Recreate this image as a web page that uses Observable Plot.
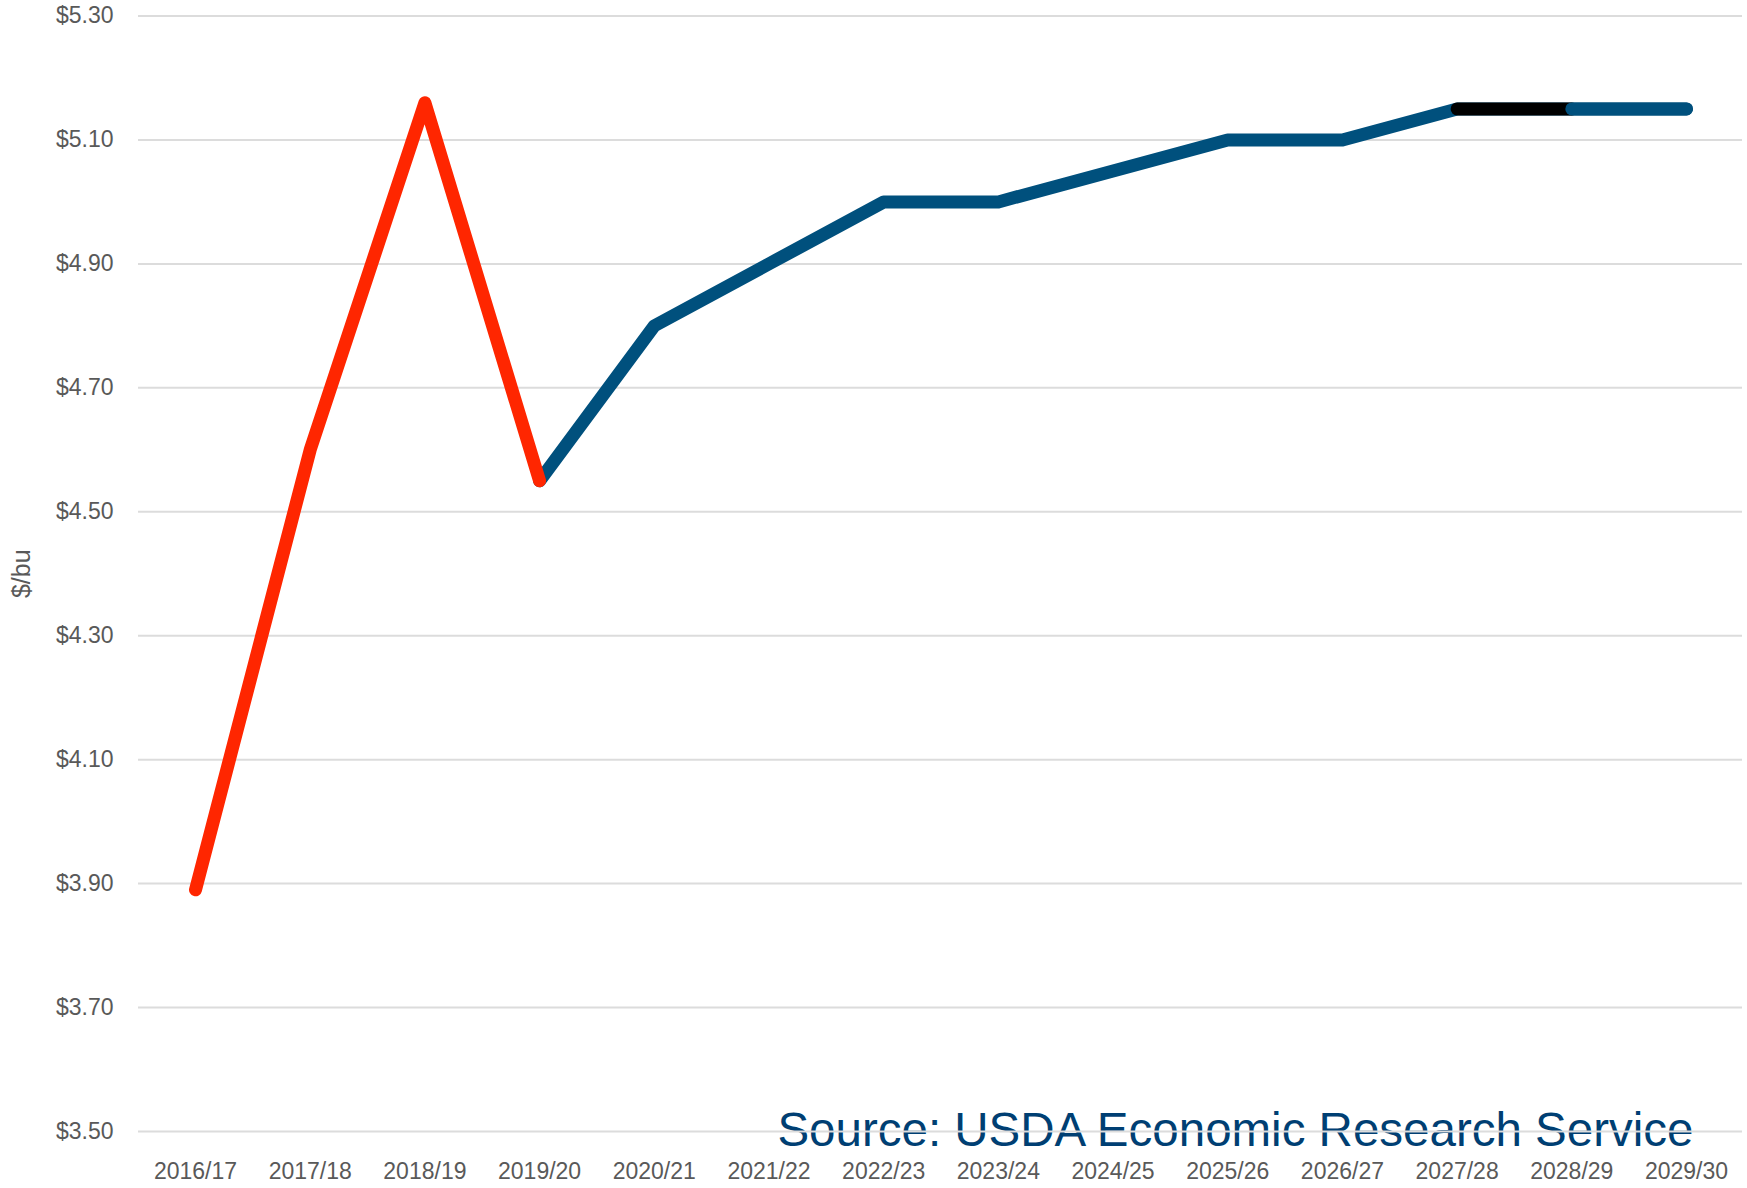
<!DOCTYPE html>
<html>
<head>
<meta charset="utf-8">
<script src="https://cdn.jsdelivr.net/npm/d3@7"></script>
<script src="https://cdn.jsdelivr.net/npm/@observablehq/plot@0.6"></script>
<style>
  html, body { margin: 0; padding: 0; background: #fff; }
  #chart svg { display: block; }
</style>
</head>
<body>
<div id="chart"></div>
<script>
// Marketing years (x categories)
const seasons = ["2016/17","2017/18","2018/19","2019/20","2020/21","2021/22","2022/23",
                 "2023/24","2024/25","2025/26","2026/27","2027/28","2028/29","2029/30"];
// Historical prices ($/bu), 2016/17 – 2019/20
const histSeasons = ["2016/17","2017/18","2018/19","2019/20"];
const histValues  = [3.89, 4.60, 5.16, 4.55];
// Projected prices ($/bu), 2019/20 – 2029/30
const projSeasons = ["2019/20","2020/21","2021/22","2022/23","2023/24","2024/25",
                     "2025/26","2026/27","2027/28","2028/29","2029/30"];
const projValues  = [4.55, 4.80, 4.90, 5.00, 5.00, 5.05, 5.10, 5.10, 5.15, 5.15, 5.15];
// Highlighted segment of the projection (drawn in black)
const blackSeasons = ["2027/28","2028/29"];
// Final projected segment
const lastSeasons = ["2028/29","2029/30"];
// Y ticks
const yTicks = [3.5, 3.7, 3.9, 4.1, 4.3, 4.5, 4.7, 4.9, 5.1, 5.3];
const sourceText = "Source: USDA Economic Research Service";

const proj = projSeasons.map((s, i) => ({season: s, value: projValues[i]}));
const hist = histSeasons.map((s, i) => ({season: s, value: histValues[i]}));
const black = proj.filter(d => blackSeasons.includes(d.season));
const last = proj.filter(d => lastSeasons.includes(d.season));

const lineStyle = {x: "season", y: "value", strokeWidth: 13, strokeLinecap: "round", strokeLinejoin: "round"};

const chart = Plot.plot({
  width: 1747,
  height: 1188,
  marginLeft: 138,
  marginRight: 5,
  marginTop: 15.5,
  marginBottom: 57,
  style: {fontFamily: "'Liberation Sans', Arial, sans-serif", fontSize: "23px", color: "#595959", background: "#fff"},
  x: {type: "point", domain: seasons, range: [195, 1686], padding: 0, round: false, label: null},
  y: {domain: [3.5, 5.3], label: null},
  marks: [
    Plot.text([sourceText], {text: d => d, frameAnchor: "bottom-right", textAnchor: "end",
      lineAnchor: "bottom", dx: -49, dy: 14, fontSize: 47.5, fill: "#003F73"}),
    Plot.gridY(yTicks, {stroke: "#dcdcdc", strokeOpacity: 1, strokeWidth: 2}),
    Plot.axisY(yTicks, {tickSize: 0, tickPadding: 25, tickFormat: d => "$" + d.toFixed(2),
      fill: "#595959", fontSize: 23, label: null}),
    Plot.text(["$/bu"], {text: d => d, frameAnchor: "left", textAnchor: "middle", lineAnchor: "middle",
      rotate: -90, dx: -117, fontSize: 25, fill: "#595959"}),
    Plot.axisX(seasons, {tickSize: 0, tickPadding: 31, fill: "#595959", fontSize: 23, label: null}),
    Plot.line(proj, {...lineStyle, stroke: "#00507D"}),
    Plot.line(black, {...lineStyle, stroke: "#000000"}),
    Plot.line(last, {...lineStyle, stroke: "#00507D"}),
    Plot.line(hist, {...lineStyle, stroke: "#FF2600"})
  ]
});
document.getElementById("chart").appendChild(chart);
</script>
</body>
</html>
